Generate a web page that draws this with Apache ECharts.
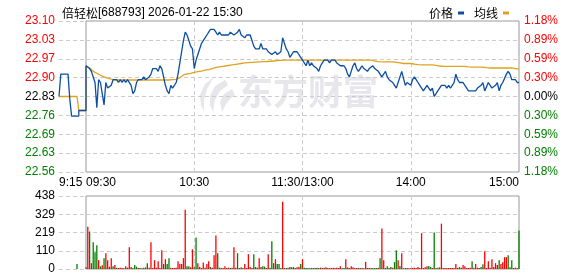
<!DOCTYPE html>
<html><head><meta charset="utf-8">
<script src="https://cdn.jsdelivr.net/npm/echarts@6/dist/echarts.min.js"></script>
<style>html,body{margin:0;padding:0;background:#fff}#c{width:578px;height:276px}</style>
</head><body><div id="c"></div>
<script>
// ---------- data ----------
const titleName = '倍轻松';
const titleRest = '[688793] 2026-01-22 15:30';
const prevClose = 22.83;
const priceTicks = ['22.56','22.63','22.69','22.76','22.83','22.90','22.97','23.03','23.10'];
const pctTicks = ['1.18%','0.89%','0.59%','0.30%','0.00%','0.30%','0.59%','0.89%','1.18%'];
const volTicks = ['0','110','219','329','438'];
const timeTicks = ['09:30','10:30','11:30/13:00','14:00','15:00'];
const preTimes = ['9:15','9:16','9:17','9:18','9:19','9:20','9:21','9:22','9:23','9:24','9:25','9:26','9:27','9:28','9:29','9:30'];
const prePrice = [22.83,22.91,22.91,22.91,22.91,22.91,22.82,22.76,22.76,22.76,22.76,22.78,22.78,22.78,22.78,22.94];
const preAvg   = [22.83,22.83,22.83,22.83,22.83,22.83,22.83,22.83,22.83,22.83,22.83,22.78,22.78,22.78,22.78,22.94];
const preVol   = [null,null,null,null,null,null,null,null,null,null,30,null,null,null,null,null];
const preVolUp = [0,0,0,0,0,0,0,0,0,0,0,0,0,0,0,0];

const price = [
22.94,22.94,22.93,22.92,22.90,22.88,22.79,22.89,22.88,22.84,
22.80,22.88,22.86,22.86,22.87,22.89,22.89,22.89,22.88,22.89,
22.88,22.89,22.88,22.89,22.89,22.87,22.84,22.85,22.88,22.89,
22.89,22.89,22.90,22.89,22.89,22.90,22.91,22.93,22.93,22.93,
22.92,22.94,22.93,22.90,22.87,22.85,22.84,22.87,22.86,22.86,
22.88,22.91,22.95,22.99,23.03,23.06,23.05,23.03,23.01,23.00,
22.93,22.96,22.98,23.00,23.02,23.03,23.04,23.05,23.06,23.07,
23.07,23.07,23.06,23.05,23.06,23.05,23.05,23.05,23.05,23.05,
23.06,23.06,23.05,23.05,23.06,23.07,23.05,23.05,23.04,23.05,
23.05,23.05,23.03,23.01,23.00,23.00,23.00,23.02,23.00,23.00,
23.00,22.99,22.99,22.98,22.98,22.99,22.98,22.98,22.99,23.04,
23.02,23.00,22.99,22.97,22.98,22.99,22.99,22.99,22.99,22.97,
22.96,22.96,22.94,22.96,22.94,22.95,22.94,22.94,22.93,22.92,
22.94,22.95,22.96,22.96,22.96,22.95,22.96,22.96,22.96,22.95,
22.95,22.94,22.94,22.94,22.93,22.91,22.90,22.92,22.94,22.95,
22.93,22.92,22.93,22.94,22.93,22.93,22.92,22.93,22.93,22.94,
22.93,22.93,22.92,22.91,22.90,22.91,22.92,22.90,22.89,22.89,
22.88,22.87,22.86,22.88,22.90,22.92,22.92,22.87,22.88,22.88,
22.87,22.89,22.90,22.89,22.88,22.87,22.86,22.85,22.85,22.87,
22.87,22.85,22.86,22.83,22.84,22.84,22.86,22.87,22.87,22.87,
22.86,22.87,22.86,22.87,22.88,22.91,22.89,22.88,22.88,22.88,
22.87,22.86,22.85,22.85,22.85,22.85,22.85,22.86,22.86,22.87,
22.88,22.85,22.85,22.88,22.87,22.86,22.86,22.87,22.88,22.85,
22.87,22.88,22.88,22.91,22.92,22.91,22.89,22.89,22.89,22.88,
22.88];

const avgPrice = [
22.940,22.940,22.932,22.926,22.920,22.917,22.913,22.910,22.906,22.903,
22.900,22.898,22.896,22.894,22.892,22.890,22.889,22.889,22.889,22.889,
22.889,22.889,22.889,22.889,22.889,22.889,22.889,22.889,22.889,22.889,
22.889,22.889,22.889,22.889,22.889,22.889,22.889,22.889,22.889,22.889,
22.889,22.889,22.889,22.889,22.889,22.889,22.889,22.890,22.890,22.890,
22.891,22.893,22.897,22.902,22.907,22.909,22.911,22.912,22.913,22.915,
22.916,22.918,22.919,22.920,22.921,22.922,22.924,22.925,22.926,22.928,
22.930,22.932,22.934,22.935,22.936,22.937,22.938,22.939,22.940,22.941,
22.942,22.943,22.944,22.945,22.946,22.947,22.948,22.949,22.950,22.950,
22.951,22.951,22.952,22.952,22.953,22.953,22.954,22.954,22.955,22.955,
22.955,22.956,22.956,22.957,22.957,22.958,22.958,22.958,22.959,22.960,
22.960,22.960,22.960,22.960,22.960,22.960,22.960,22.960,22.960,22.960,
22.960,22.960,22.960,22.960,22.960,22.960,22.960,22.960,22.960,22.960,
22.960,22.960,22.960,22.960,22.960,22.960,22.960,22.960,22.960,22.960,
22.960,22.960,22.960,22.960,22.960,22.960,22.960,22.960,22.960,22.960,
22.960,22.960,22.960,22.960,22.960,22.960,22.960,22.960,22.960,22.960,
22.957,22.956,22.955,22.954,22.954,22.954,22.954,22.954,22.954,22.954,
22.954,22.953,22.952,22.951,22.950,22.949,22.948,22.948,22.948,22.948,
22.948,22.947,22.946,22.945,22.944,22.943,22.943,22.943,22.943,22.943,
22.943,22.943,22.943,22.942,22.941,22.940,22.939,22.938,22.938,22.938,
22.938,22.938,22.938,22.938,22.938,22.938,22.938,22.938,22.938,22.938,
22.938,22.937,22.936,22.935,22.935,22.935,22.935,22.935,22.935,22.935,
22.935,22.934,22.933,22.932,22.932,22.932,22.932,22.932,22.932,22.932,
22.932,22.932,22.932,22.932,22.932,22.932,22.932,22.932,22.930,22.929,
22.928];

const volume = [
10,254,225,35,160,100,142,53,16,22,
65,95,53,14,65,16,24,8,6,8,
6,5,16,8,130,12,6,24,14,6,
6,5,8,10,35,8,160,6,53,8,
47,6,112,30,59,30,65,8,6,6,
8,47,30,30,65,355,16,16,10,118,
10,189,35,12,6,39,8,30,47,12,
8,83,201,95,8,6,6,16,6,8,
6,8,130,8,95,6,10,6,30,6,
89,12,6,89,12,8,65,12,16,14,
6,89,8,166,35,59,30,30,6,404,
6,6,8,12,10,12,6,10,14,30,
59,8,6,6,4,6,6,6,8,6,
8,6,8,10,6,6,6,8,6,8,
6,16,4,6,59,10,6,16,10,6,
6,6,6,6,4,43,6,6,6,6,
6,6,8,65,243,53,6,16,6,12,
8,41,112,53,18,95,4,6,6,4,
4,6,8,6,12,6,215,6,10,16,
18,12,6,219,6,8,10,272,6,6,
6,6,6,6,6,30,6,12,8,24,
16,6,6,8,47,8,30,8,6,12,
28,107,6,47,8,59,12,35,24,53,
30,41,71,71,83,10,53,6,8,6,
231];

const volUp = [
1,1,0,1,0,0,0,1,0,1,
0,1,1,1,1,0,1,0,1,1,
1,0,1,1,1,1,0,0,0,1,
0,1,0,1,0,1,1,1,1,1,
1,1,1,0,1,0,0,1,1,1,
1,1,1,1,1,1,0,0,1,1,
0,0,1,1,1,1,1,1,1,0,
1,1,1,0,0,1,1,1,1,1,
0,1,1,1,0,0,1,0,1,1,
1,1,1,0,0,1,1,1,0,0,
1,1,0,0,1,1,0,0,0,1,
1,0,1,0,0,0,1,1,1,0,
1,0,0,0,1,0,0,0,1,0,
1,0,1,1,1,1,1,1,1,1,
1,1,0,0,1,0,1,1,1,1,
1,0,1,1,0,1,1,1,1,0,
0,0,1,0,1,1,0,0,0,0,
1,0,0,1,0,1,0,1,0,1,
1,1,1,1,1,1,1,1,1,1,
0,0,1,0,0,1,1,1,1,1,
1,1,1,1,1,1,0,1,0,1,
1,1,1,1,0,1,1,1,1,0,
0,1,1,1,1,1,1,1,1,0,
1,1,1,1,0,0,0,1,1,1,
0];

// time categories 9:30-11:30, 13:01-15:00
const mainTimes = [];
(function(){
  function f(h,m){return (h<10?'0':'')+h+':'+(m<10?'0':'')+m;}
  for(let t=9*60+30;t<=11*60+30;t++) mainTimes.push(f(Math.floor(t/60),t%60));
  for(let t=13*60+1;t<=15*60;t++) mainTimes.push(f(Math.floor(t/60),t%60));
})();

// ---------- styles ----------
const RED='#ff0000', GREEN='#008000', BLUE='#0b4fa3', GOLD='#e0a21e';
const FONT='Liberation Sans';
const LW=1.3;
const pMin=22.56, pMax=23.10, pStep=0.0675;
const vMax=438, vStep=109.5;
const dash={color:'#cccccc',type:[4,3],width:1};
function pIdx(v){return Math.round((v-pMin)/pStep);}
function pColor(v){const i=pIdx(v);return i>4?RED:(i<4?GREEN:'#000');}

const chart = echarts.init(document.getElementById('c'), null, {renderer:'canvas'});
const G = [
  {left:59, top:21, width:27, height:151, show:false},
  {left:86, top:21, width:433, height:151, show:true, borderColor:'#999', borderWidth:1},
  {left:59, top:196, width:27, height:73, show:false},
  {left:86, top:196, width:433, height:73, show:true, borderColor:'#999', borderWidth:1}
];
const mainSplit = {show:true, interval:function(i){return i%60===0 && i!==0 && i!==240;}, lineStyle:dash};
const wm = '#e6e6eb';
chart.setOption({
  animation:false,
  title:{left:57, top:2, text:'{a|'+titleName+'}{b|'+titleRest+'}',
    textStyle:{fontWeight:'normal', rich:{a:{fontFamily:'Noto Sans CJK SC',fontSize:12,color:'#000'},b:{fontFamily:FONT,fontSize:12,color:'#000'}}}},
  legend:{right:64, top:2, align:'right', icon:'rect', itemWidth:6, itemHeight:3, itemGap:10, selectedMode:false,
    data:['价格','均线'], textStyle:{fontFamily:'Noto Sans CJK SC', fontSize:12, color:'#000'}},
  graphic:[
    {type:'text', x:238, y:74, z:0, silent:true, style:{text:'东方财富', font:'bold 35px "Noto Sans CJK SC"', fill:wm}},
    {type:'polygon', z:0, silent:true, shape:{points:[[214,77],[205,84],[200,95],[201,105],[204,112],[204,100],[207,89]]}, style:{fill:wm}},
    {type:'polygon', z:0, silent:true, shape:{points:[[225,80],[215,86],[210,96],[210,105],[213,112],[215,100],[220,91],[228,85]]}, style:{fill:wm}},
    {type:'polygon', z:0, silent:true, shape:{points:[[232,89],[224,94],[220,102],[222,112],[226,104],[230,99],[235,95]]}, style:{fill:wm}}
  ],
  grid:G,
  xAxis:[
    {gridIndex:0, type:'category', data:preTimes, boundaryGap:false,
      axisLine:{show:false}, axisTick:{show:false}, splitLine:{show:false},
      axisLabel:{interval:function(i){return i===0;}, formatter:function(v,i){return i===0?preTimes[0]:'';}, alignMinLabel:'left', margin:5, fontFamily:FONT, fontSize:12, color:'#000'}},
    {gridIndex:1, type:'category', data:mainTimes, boundaryGap:false,
      axisLine:{show:false}, axisTick:{show:false}, splitLine:mainSplit,
      axisLabel:{interval:function(i){return i%60===0;}, formatter:function(v,i){return timeTicks[i/60];}, alignMinLabel:'left', alignMaxLabel:'right', margin:5, fontFamily:FONT, fontSize:12, color:'#000'}},
    {gridIndex:2, type:'category', data:preTimes, boundaryGap:false,
      axisLine:{show:false}, axisTick:{show:false}, axisLabel:{show:false}, splitLine:{show:false}},
    {gridIndex:3, type:'category', data:mainTimes, boundaryGap:false,
      axisLine:{show:false}, axisTick:{show:false}, axisLabel:{show:false}, splitLine:mainSplit}
  ],
  yAxis:[
    {gridIndex:0, type:'value', min:pMin, max:pMax, interval:pStep, position:'left',
      axisLine:{show:false}, axisTick:{show:false},
      splitLine:{show:true, lineStyle:dash},
      axisLabel:{margin:4, fontFamily:FONT, fontSize:12, formatter:function(v){return priceTicks[pIdx(v)];}, color:function(v){return pColor(v);}}},
    {gridIndex:1, type:'value', min:pMin, max:pMax, interval:pStep,
      axisLine:{show:false}, axisTick:{show:false}, axisLabel:{show:false},
      splitLine:{show:true, showMinLine:false, showMaxLine:false, lineStyle:dash}},
    {gridIndex:1, type:'value', min:pMin, max:pMax, interval:pStep, position:'right',
      axisLine:{show:false}, axisTick:{show:false}, splitLine:{show:false},
      axisLabel:{margin:5, fontFamily:FONT, fontSize:12, formatter:function(v){return pctTicks[pIdx(v)];}, color:function(v){return pColor(v);}}},
    {gridIndex:2, type:'value', min:0, max:vMax, interval:vStep, position:'left',
      axisLine:{show:false}, axisTick:{show:false},
      splitLine:{show:true, lineStyle:dash},
      axisLabel:{margin:4, fontFamily:FONT, fontSize:12, color:'#000', formatter:function(v){return volTicks[Math.round(v/vStep)];}}},
    {gridIndex:3, type:'value', min:0, max:vMax, interval:vStep,
      axisLine:{show:false}, axisTick:{show:false}, axisLabel:{show:false},
      splitLine:{show:true, showMinLine:false, showMaxLine:false, lineStyle:dash}}
  ],
  series:[
    {name:'价格', type:'line', xAxisIndex:0, yAxisIndex:0, data:prePrice, step:'end', showSymbol:false, lineStyle:{color:BLUE,width:LW}, itemStyle:{color:BLUE}, z:4},
    {name:'均线', type:'line', xAxisIndex:0, yAxisIndex:0, data:preAvg, step:'end', showSymbol:false, lineStyle:{color:GOLD,width:LW}, itemStyle:{color:GOLD}, z:3},
    {name:'价格', type:'line', xAxisIndex:1, yAxisIndex:1, data:price, showSymbol:false, lineStyle:{color:BLUE,width:LW}, itemStyle:{color:BLUE}, z:4},
    {name:'均线', type:'line', xAxisIndex:1, yAxisIndex:1, data:avgPrice, showSymbol:false, lineStyle:{color:GOLD,width:LW}, itemStyle:{color:GOLD}, z:3},
    {type:'bar', xAxisIndex:2, yAxisIndex:3, barWidth:1.3,
      data:preVol.map(function(v,i){return {value:v, itemStyle:{color:preVolUp[i]?RED:GREEN}};})},
    {type:'bar', xAxisIndex:3, yAxisIndex:4, barWidth:1.3,
      data:volume.map(function(v,i){return {value:v, itemStyle:{color:volUp[i]?RED:GREEN}};})}
  ]
});
</script></body></html>
